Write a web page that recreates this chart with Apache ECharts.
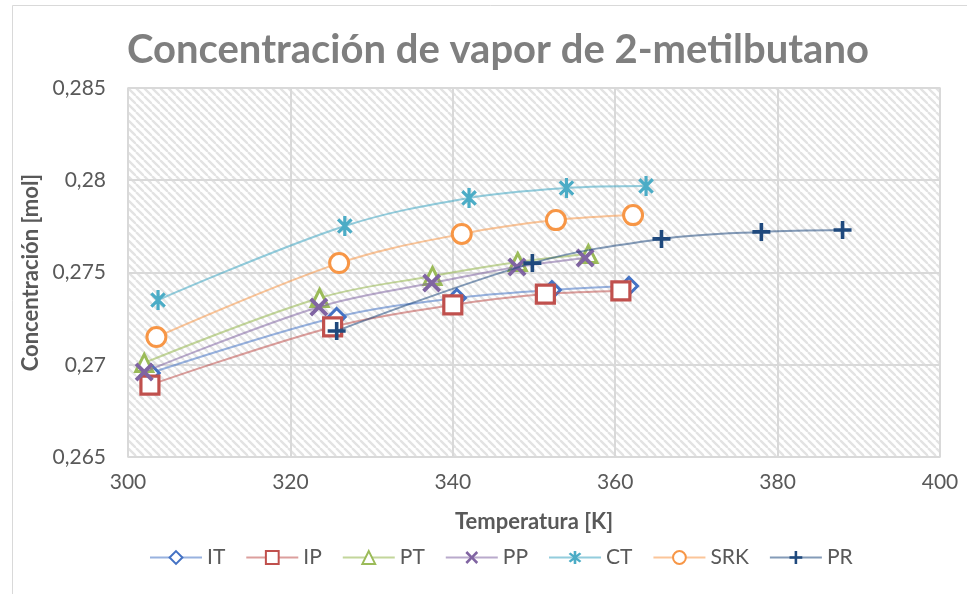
<!DOCTYPE html>
<html><head><meta charset="utf-8">
<script src="https://cdn.jsdelivr.net/npm/echarts@6/dist/echarts.min.js"></script>
<style>html,body{margin:0;padding:0;background:#fff}#c{width:967px;height:594px}</style>
</head><body><div id="c"></div>
<script>
const titleText = 'Concentración de vapor de 2-metilbutano';
const xTicks = [300, 320, 340, 360, 380, 400];
const yTicks = [0.265, 0.27, 0.275, 0.28, 0.285];
const seriesNames = ['IT', 'IP', 'PT', 'PP', 'CT', 'SRK', 'PR'];
const tIT = [302.8, 325.7, 340.5, 352.2, 361.7];
const cIT = [0.26955, 0.27259, 0.27362, 0.27405, 0.27427];
const tIP = [302.7, 325.2, 340.0, 351.4, 360.7];
const cIP = [0.26890, 0.27205, 0.27324, 0.27383, 0.27400];
const tPT = [302.0, 323.6, 337.5, 348.0, 356.7];
const cPT = [0.27010, 0.27362, 0.27481, 0.27557, 0.27600];
const tPP = [302.0, 323.5, 337.4, 347.9, 356.3];
const cPP = [0.26961, 0.27313, 0.27443, 0.27530, 0.27579];
const tCT = [303.7, 326.7, 342.0, 354.0, 363.8];
const cCT = [0.27351, 0.27752, 0.27904, 0.27958, 0.27969];
const tSRK = [303.5, 326.0, 341.1, 352.7, 362.2];
const cSRK = [0.27150, 0.27551, 0.27709, 0.27784, 0.27811];
const tPR = [325.7, 349.8, 365.7, 378.0, 388.0];
const cPR = [0.27183, 0.27551, 0.27682, 0.27720, 0.27730];

const temps = [tIT, tIP, tPT, tPP, tCT, tSRK, tPR];
const concs = [cIT, cIP, cPT, cPP, cCT, cSRK, cPR];
const colors = ['#4472C4', '#C0504D', '#9BBB59', '#8064A2', '#4BACC6', '#F79646', '#1F497D'];
const lineColors = ['rgba(68,114,196,0.55)', 'rgba(192,80,77,0.55)', 'rgba(155,187,89,0.6)', 'rgba(128,100,162,0.55)', 'rgba(75,172,198,0.6)', 'rgba(247,150,70,0.55)', 'rgba(31,73,125,0.55)'];

// filled cross-shaped marker outlines (geometry only)
function crossPoly(angleDeg, L, t) {
  const pts = [[t,-L],[t,-t],[L,-t],[L,t],[t,t],[t,L],[-t,L],[-t,t],[-L,t],[-L,-t],[-t,-t],[-t,-L]];
  const a = angleDeg * Math.PI / 180, c = Math.cos(a), s = Math.sin(a);
  return pts.map(p => [p[0]*c - p[1]*s, p[0]*s + p[1]*c]);
}
function toPath(polys) {
  return 'path://' + polys.map(poly => 'M' + poly.map(p => (p[0] + 20).toFixed(3) + ',' + (p[1] + 20).toFixed(3)).join('L') + 'Z').join('');
}
function barPoly(L, t) { return [[-t,-L],[t,-L],[t,L],[-t,L]]; }
const xSym = toPath([crossPoly(45, 10, 1.7)]);
const starSym = toPath([crossPoly(45, 9.5, 1.6), barPoly(10, 1.6)]);
const plusSym = toPath([crossPoly(0, 10, 2.0)]);

const symbols = ['diamond', 'rect', 'triangle', xSym, starSym, 'circle', plusSym];
const sizes = [17, 18, 17, 19, 20, 19, 18];
const borders = [3, 3.2, 3, 0, 0, 3, 0];
const hollow = [true, true, true, false, false, true, false];

// hatched background tile
const tile = document.createElement('canvas');
tile.width = 8; tile.height = 8;
const g = tile.getContext('2d');
g.fillStyle = '#ffffff'; g.fillRect(0, 0, 8, 8);
g.strokeStyle = '#e3e3e3'; g.lineWidth = 2.4;
[-8, 0, 8].forEach(o => { g.beginPath(); g.moveTo(o, 0); g.lineTo(o + 8, 8); g.stroke(); });

const font = 'Lato, "Open Sans", sans-serif';
const chart = echarts.init(document.getElementById('c'), null, {renderer: 'canvas'});
chart.setOption({
  animation: false,
  backgroundColor: '#fff',
  graphic: [{type: 'rect', shape: {x: 12.5, y: 5.5, width: 1000, height: 1000}, style: {fill: 'none', stroke: '#d9d9d9', lineWidth: 1}, silent: true}],
  title: {text: titleText, left: 127, top: 30, padding: 0, textStyle: {fontFamily: font, fontSize: 40, fontWeight: 'bold', color: '#7f7f7f'}},
  grid: {left: 128, top: 88, right: 27, bottom: 137, show: true, backgroundColor: {image: tile, repeat: 'repeat'}, borderColor: '#d9d9d9', borderWidth: 1.5},
  xAxis: {type: 'value', min: xTicks[0], max: xTicks[xTicks.length - 1], interval: xTicks[1] - xTicks[0],
    name: 'Temperatura [K]', nameLocation: 'middle', nameGap: 54,
    nameTextStyle: {fontFamily: font, fontSize: 22, fontWeight: 'bold', color: '#595959'},
    axisLine: {show: false}, axisTick: {show: false},
    axisLabel: {fontFamily: font, fontSize: 21, color: '#595959', margin: 15},
    splitLine: {lineStyle: {color: '#d9d9d9', width: 2}}},
  yAxis: {type: 'value', min: yTicks[0], max: yTicks[yTicks.length - 1], interval: 0.005,
    name: 'Concentración [mol]', nameLocation: 'middle', nameGap: 84,
    nameTextStyle: {fontFamily: font, fontSize: 22, fontWeight: 'bold', color: '#595959'},
    axisLine: {show: false}, axisTick: {show: false},
    axisLabel: {fontFamily: font, fontSize: 21, color: '#595959', margin: 22,
      formatter: v => String(parseFloat(v.toFixed(3))).replace('.', ',')},
    splitLine: {lineStyle: {color: '#d9d9d9', width: 2}}},
  legend: {left: 149, top: 547, padding: 0, itemWidth: 52, itemHeight: 16, itemGap: 20,
    textStyle: {fontFamily: font, fontSize: 21, color: '#595959'},
    data: seriesNames},
  series: seriesNames.map((n, i) => ({
    name: n, type: 'line', smooth: 0.35,
    data: temps[i].map((t, k) => [t, concs[i][k]]),
    symbol: symbols[i], symbolSize: sizes[i], symbolKeepAspect: true,
    lineStyle: {color: lineColors[i], width: 2},
    itemStyle: {color: hollow[i] ? '#ffffff' : colors[i], borderColor: colors[i], borderWidth: borders[i]},
    z: 2 + i
  }))
});
</script></body></html>
